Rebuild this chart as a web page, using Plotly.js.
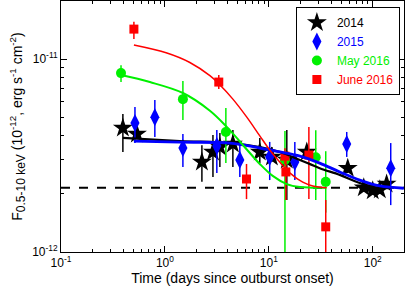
<!DOCTYPE html>
<html>
<head>
<meta charset="utf-8">
<script src="https://cdn.plot.ly/plotly-3.0.1.min.js"></script>
<style>html,body{margin:0;padding:0;background:#fff;}#chart{width:407px;height:289px;}</style>
</head>
<body>
<div id="chart"></div>
<script>
// ---- Data (days since outburst onset, flux in erg/s/cm^2) ----
// 2014 (black stars)
const t2014   = [0.394, 0.538, 2.27, 2.90, 3.38, 4.51, 8.19, 10.7, 14.9, 23.2, 57.5, 82, 100, 117, 136];
const f2014   = [4.39e-12, 4.09e-12, 2.93e-12, 3.30e-12, 3.50e-12, 3.63e-12, 3.30e-12, 3.11e-12, 3.00e-12, 3.30e-12, 2.72e-12, 2.15e-12, 2.08e-12, 2.10e-12, 2.25e-12];
const hi2014  = [5.19e-12, 4.24e-12, 3.58e-12, 4.04e-12, 4.14e-12, 4.29e-12, 3.90e-12, 3.50e-12, 4.29e-12, 3.50e-12, 2.87e-12, 2.25e-12, 2.18e-12, 2.20e-12, 2.35e-12];
const lo2014  = [3.30e-12, 3.94e-12, 2.31e-12, 2.45e-12, 2.76e-12, 2.76e-12, 2.89e-12, 2.93e-12, 1.86e-12, 3.10e-12, 2.57e-12, 2.05e-12, 1.98e-12, 2.00e-12, 2.15e-12];
// 2015 (blue diamonds)
const t2015   = [0.515, 0.80, 1.49, 3.16, 5.26, 10.2, 17.8, 56.2, 149];
const f2015   = [4.66e-12, 5.00e-12, 3.46e-12, 3.54e-12, 3.00e-12, 3.11e-12, 2.93e-12, 3.63e-12, 2.72e-12];
const hi2015  = [5.64e-12, 6.13e-12, 4.09e-12, 4.29e-12, 3.67e-12, 3.72e-12, 3.72e-12, 4.19e-12, 3.67e-12];
const lo2015  = [3.67e-12, 3.94e-12, 2.76e-12, 2.57e-12, 2.45e-12, 2.36e-12, 2.36e-12, 3.11e-12, 1.75e-12];
// May 2016 (green circles)
const tMay    = [0.378, 1.49, 3.86, 14.3, 28.3, 35.3];
const fMay    = [8.46e-12, 6.20e-12, 4.19e-12, 3.00e-12, 3.10e-12, 2.31e-12];
const hiMay   = [9.30e-12, 7.70e-12, 5.57e-12, 4.24e-12, 4.28e-12, 3.33e-12];
const loMay   = [7.60e-12, 4.83e-12, 2.89e-12, 1.0e-13, 1.86e-12, 1.60e-12];
// June 2016 (red squares)
const tJun    = [0.503, 3.3, 6.1, 14.3, 14.6, 24.3, 35.3];
const fJun    = [1.43e-11, 7.60e-12, 2.39e-12, 3.14e-12, 2.60e-12, 3.18e-12, 1.35e-12];
const hiJun   = [1.56e-11, 8.26e-12, 2.86e-12, 3.45e-12, 3.00e-12, 4.45e-12, 1.86e-12];
const loJun   = [1.27e-11, 7.00e-12, 1.88e-12, 2.85e-12, 1.86e-12, 1.88e-12, 1.0e-13];

// Fit curves
const fitJunT = [0.503, 1.045, 1.738, 2.71, 3.3, 4.51, 6.14, 8.19, 10.2, 12.8, 15.9, 21.2, 26.5, 36.1];
const fitJunF = [1.183e-11, 1.075e-11, 9.6e-12, 8.2e-12, 7.45e-12, 6.2e-12, 5.0e-12, 4.0e-12, 3.38e-12, 2.92e-12, 2.57e-12, 2.30e-12, 2.20e-12, 2.15e-12];
const fitMayT = [0.378, 0.717, 1.49, 2.71, 3.94, 6.14, 8.19, 10.9, 14.9, 20.0, 26.0, 35.3];
const fitMayF = [8.26e-12, 7.60e-12, 6.67e-12, 5.40e-12, 4.45e-12, 3.40e-12, 2.86e-12, 2.48e-12, 2.25e-12, 2.17e-12, 2.155e-12, 2.15e-12];
const fit15T  = [0.503, 1.39, 4.22, 8.19, 12.8, 19.9, 30.9, 48.2, 75.0, 117, 199];
const fit15F  = [3.76e-12, 3.71e-12, 3.67e-12, 3.46e-12, 3.30e-12, 3.14e-12, 2.89e-12, 2.60e-12, 2.36e-12, 2.20e-12, 2.14e-12];
const fit14T  = [0.394, 1.39, 4.22, 8.19, 12.8, 19.9, 30.9, 48.2, 75.0, 117, 150];
const fit14F  = [3.90e-12, 3.76e-12, 3.67e-12, 3.50e-12, 3.30e-12, 3.00e-12, 2.72e-12, 2.51e-12, 2.28e-12, 2.15e-12, 2.15e-12];
// Quiescent level
const quietT = [0.1, 200];
const quietF = [2.15e-12, 2.15e-12];

// Tick labels
const xTickVals = [0.1, 1, 10, 100];
const xTickText = ['10<sup>-1</sup>', '10<sup>0</sup>', '10<sup>1</sup>', '10<sup>2</sup>'];
const yTickVals = [1e-12, 1e-11];
const yTickText = ['10<sup>-12</sup>', '10<sup>-11</sup>'];
const xMinor = [0.2,0.3,0.4,0.5,0.6,0.7,0.8,0.9,2,3,4,5,6,7,8,9,20,30,40,50,60,70,80,90,200];
const yMinor = [2e-12,3e-12,4e-12,5e-12,6e-12,7e-12,8e-12,9e-12,2e-11];

const plus  = (hi, y) => hi.map((h, i) => h - y[i]);
const minus = (lo, y) => lo.map((l, i) => y[i] - l);

function errTrace(t, f, hi, lo, color, symbol, size, name) {
  return {
    x: t, y: f, type: 'scatter', mode: 'markers', name: name,
    marker: {color: color, symbol: symbol, size: size, line: {width: 0}},
    error_y: {type: 'data', symmetric: false, array: plus(hi, f), arrayminus: minus(lo, f),
              color: color, thickness: 1.5, width: 0}
  };
}
function lineTrace(t, f, color, width, dash) {
  return {x: t, y: f, type: 'scatter', mode: 'lines', showlegend: false, hoverinfo: 'skip',
          line: {color: color, width: width, shape: 'spline', smoothing: 1, dash: dash || 'solid'}};
}

const GREEN = '#00f000';
const data = [
  lineTrace(quietT, quietF, '#000000', 2, 'dash'),
  errTrace(t2014, f2014, hi2014, lo2014, '#000000', 'star', 15, '<span style="color:#000000">2014</span>'),
  errTrace(t2015, f2015, hi2015, lo2015, '#0000ff', 'diamond-tall', 13, '<span style="color:#0000ff">2015</span>'),
  errTrace(tMay, fMay, hiMay, loMay, GREEN, 'circle', 10, '<span style="color:' + GREEN + '">May 2016</span>'),
  errTrace(tJun, fJun, hiJun, loJun, '#ff0000', 'square', 9, '<span style="color:#ff0000">June 2016</span>'),
  lineTrace(fit14T, fit14F, '#000000', 2.2),
  lineTrace(fit15T, fit15F, '#0000ff', 2.8),
  lineTrace(fitMayT, fitMayF, GREEN, 2),
  lineTrace(fitJunT, fitJunF, '#ff0000', 1.5)
];

const axisCommon = {
  showline: true, linecolor: '#000', linewidth: 1, mirror: 'allticks',
  ticks: 'inside', ticklen: 6, tickcolor: '#000', showgrid: false, zeroline: false,
  automargin: false,
  tickfont: {family: 'Liberation Sans, Arial, sans-serif', size: 12, color: '#000'}
};

const layout = {
  width: 407, height: 289,
  margin: {l: 61, r: 3, t: 1, b: 37},
  paper_bgcolor: '#fff', plot_bgcolor: '#fff',
  font: {family: 'Liberation Sans, Arial, sans-serif', size: 12, color: '#000'},
  xaxis: Object.assign({}, axisCommon, {
    type: 'log', range: [-1, Math.log10(200)],
    tickmode: 'array', tickvals: xTickVals, ticktext: xTickText,
    minor: {tickmode: 'array', tickvals: xMinor, ticks: 'inside', ticklen: 3, tickcolor: '#000', showgrid: false},
    title: {text: 'Time (days since outburst onset)', font: {size: 14}, standoff: 2}
  }),
  yaxis: Object.assign({}, axisCommon, {
    type: 'log', range: [-12, Math.log10(2e-11)],
    tickmode: 'array', tickvals: yTickVals, ticktext: yTickText,
    minor: {tickmode: 'array', tickvals: yMinor, ticks: 'inside', ticklen: 3, tickcolor: '#000', showgrid: false},
    title: {text: 'F<sub><span style="font-size:12px">0.5-10 keV</span></sub> (10<sup>-12</sup>, erg s<sup>-1</sup> cm<sup>-2</sup>)', font: {size: 14}, standoff: 6}
  }),
  legend: {
    x: 0.988, y: 0.976, xanchor: 'right', yanchor: 'top',
    bgcolor: '#fff', bordercolor: '#000', borderwidth: 1,
    font: {size: 12}, itemwidth: 30, tracegroupgap: 0
  },
  showlegend: true
};

Plotly.newPlot('chart', data, layout, {displayModeBar: false, staticPlot: true});
</script>
</body>
</html>
